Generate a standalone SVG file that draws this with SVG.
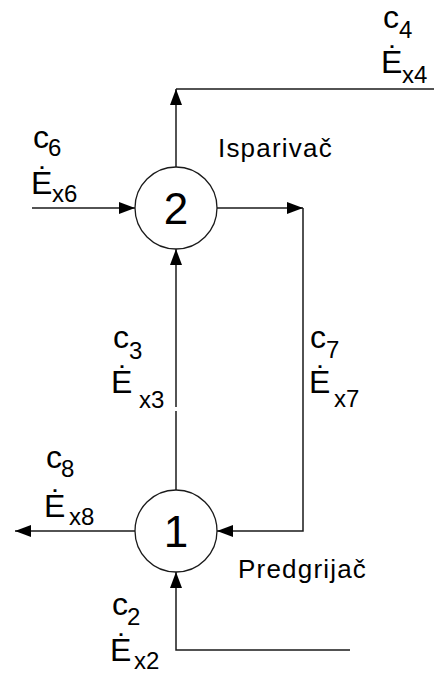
<svg xmlns="http://www.w3.org/2000/svg" width="434" height="675" viewBox="0 0 434 675">
<style>
.ln{fill:none;stroke:#1a1a1a;stroke-width:1.5}
.nd{fill:#fff;stroke:#1a1a1a;stroke-width:1.3}
.num{font-family:"Liberation Sans",Arial,sans-serif;font-size:44px;fill:#000;text-anchor:middle}
.lb{font-family:"Liberation Sans",Arial,sans-serif;font-size:32px;fill:#000}
.sb{font-size:24px}
.tt{font-family:"Liberation Sans",Arial,sans-serif;font-size:26px;fill:#000;letter-spacing:1.2px}
</style>
<defs>
<marker id="ah" viewBox="0 0 16 12" refX="16" refY="6" markerWidth="16" markerHeight="12" markerUnits="userSpaceOnUse" orient="auto">
<path d="M0,0 L16,6 L0,12 Z" fill="#000"/>
</marker>
</defs>
<g id="connectors">
<polyline class="ln" points="434,89 176,89"/>
<line class="ln" x1="176" y1="167" x2="176" y2="89" marker-end="url(#ah)"/>
<line class="ln" x1="32" y1="208" x2="135" y2="208" marker-end="url(#ah)"/>
<line class="ln" x1="217" y1="208" x2="303" y2="208" marker-end="url(#ah)"/>
<polyline class="ln" points="303,208 303,531 217,531" marker-end="url(#ah)"/>
<line class="ln" x1="176" y1="490" x2="176" y2="411"/>
<line class="ln" x1="176" y1="407" x2="176" y2="249" marker-end="url(#ah)"/>
<line class="ln" x1="135" y1="531" x2="15" y2="531" marker-end="url(#ah)"/>
<polyline class="ln" points="350,650 176,650 176,572" marker-end="url(#ah)"/>
</g>
<g id="node2">
<circle class="nd" cx="176" cy="208" r="41"/>
<text class="num" x="176" y="224">2</text>
<text class="tt" x="218" y="157">Isparivač</text>
</g>
<g id="node1">
<circle class="nd" cx="176" cy="531" r="41"/>
<text class="num" x="176" y="547">1</text>
<text class="tt" x="238" y="578">Predgrijač</text>
</g>
<g id="labels">
<text class="lb" x="383" y="28">c<tspan class="sb" dx="0" dy="10">4</tspan></text>
<text class="lb" x="381" y="73">Ė<tspan class="sb" dx="-0.3" dy="10">x4</tspan></text>
<text class="lb" x="33" y="148">c<tspan class="sb" dx="-1" dy="8">6</tspan></text>
<text class="lb" x="31" y="194">Ė<tspan class="sb" dx="-0.3" dy="8">x6</tspan></text>
<text class="lb" x="113" y="348">c<tspan class="sb" dx="0" dy="11">3</tspan></text>
<text class="lb" x="111" y="393">Ė<tspan class="sb" dx="6.7" dy="15">x3</tspan></text>
<text class="lb" x="310" y="348">c<tspan class="sb" dx="0" dy="10">7</tspan></text>
<text class="lb" x="309" y="393">Ė<tspan class="sb" dx="3.7" dy="14">x7</tspan></text>
<text class="lb" x="46" y="468">c<tspan class="sb" dx="-1" dy="9">8</tspan></text>
<text class="lb" x="44" y="517">Ė<tspan class="sb" dx="3.7" dy="8">x8</tspan></text>
<text class="lb" x="112" y="615">c<tspan class="sb" dx="-1" dy="10">2</tspan></text>
<text class="lb" x="110" y="661">Ė<tspan class="sb" dx="2.7" dy="8">x2</tspan></text>
</g>
</svg>
